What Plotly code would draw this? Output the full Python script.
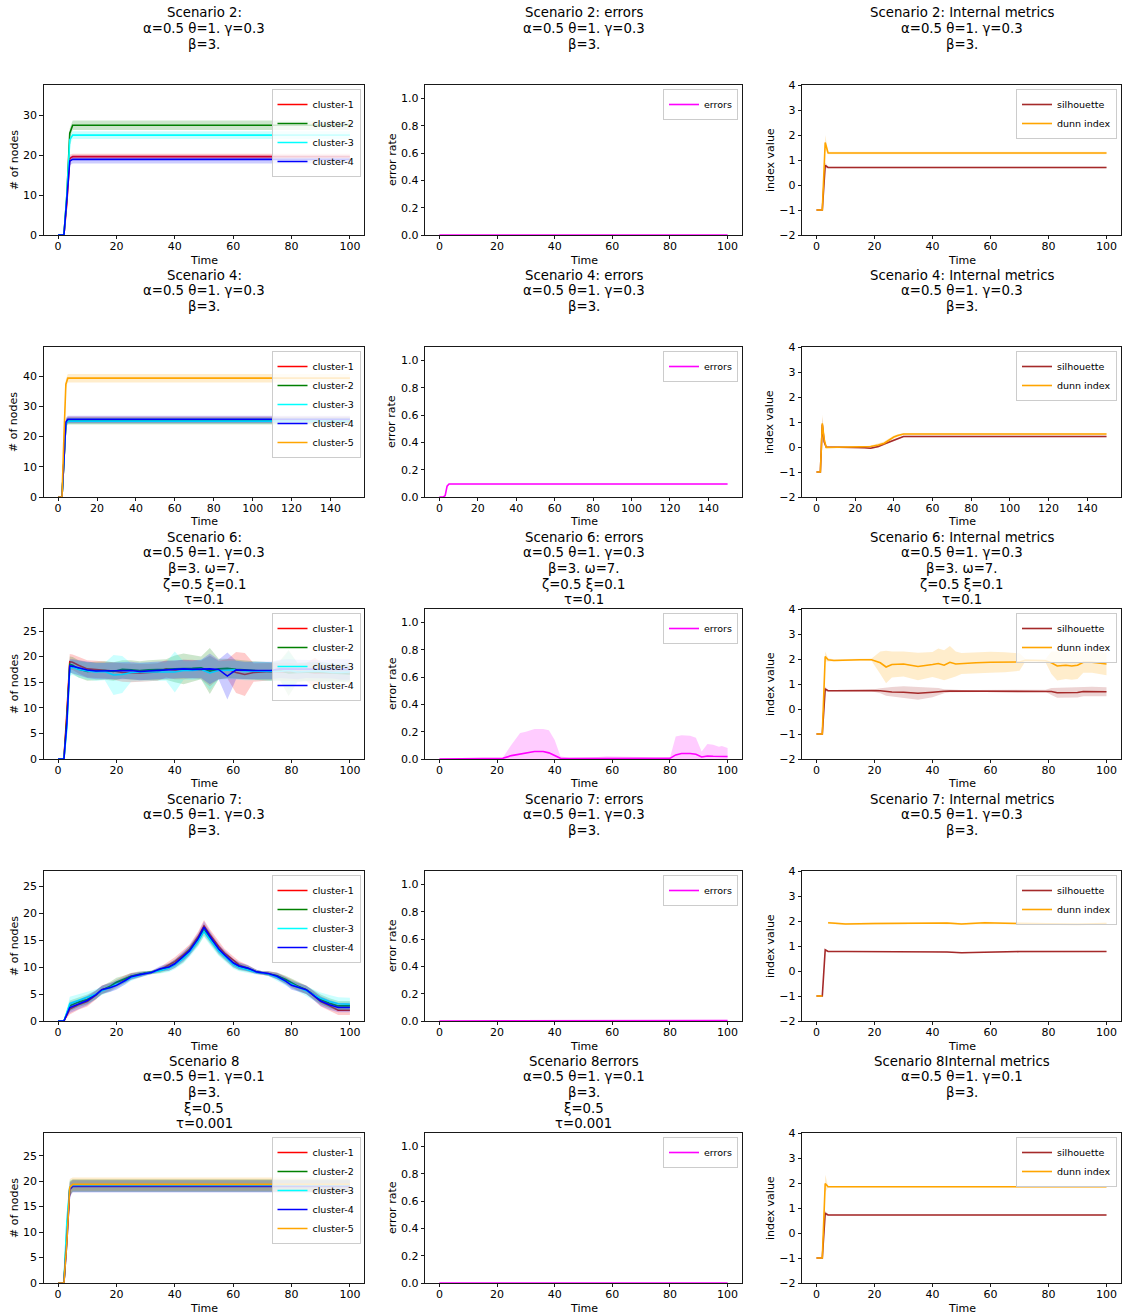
import plotly.graph_objects as go

FONT = "DejaVu Sans"
W, H = 1124, 1315

# ======================= DATA =======================
CLUSTER_NAMES = ["cluster-1", "cluster-2", "cluster-3", "cluster-4", "cluster-5"]
ERR_NAME = "errors"
IDX_NAMES = ["silhouette", "dunn index"]

# ---- Scenario 2 ----
S2_T = [0, 2, 3, 4, 5, 100]
S2_C1 = [0, 0, 8, 19.2, 19.7, 19.7]
S2_C1_SD = [0, 0, 1.5, 1.0, 0.7, 0.7]
S2_C2 = [0, 0, 10, 25.6, 27.6, 27.6]
S2_C2_SD = [0, 0, 1.5, 1.2, 1.2, 1.2]
S2_C3 = [0, 0, 10, 23.9, 25.1, 25.1]
S2_C3_SD = [0, 0, 1.5, 1.2, 1.0, 1.0]
S2_C4 = [0, 0, 9, 18.6, 19.0, 19.0]
S2_C4_SD = [0, 0, 1.5, 1.1, 1.0, 1.0]
S2_ERR_T = [0, 100]
S2_ERR = [0, 0]
S2_ERR_SD = [0, 0]
S2_IDX_T = [0, 2, 3, 4, 100]
S2_SIL = [-1, -1, 0.78, 0.70, 0.70]
S2_SIL_SD = [0, 0, 0.12, 0.03, 0.03]
S2_DUNN = [-1, -1, 1.7, 1.28, 1.28]
S2_DUNN_SD = [0, 0, 0.3, 0.05, 0.05]

# ---- Scenario 4 ----
S4_T = [0, 2, 3, 4, 5, 150]
S4_C1 = [0, 0, 12, 24.5, 25.4, 25.4]
S4_C1_SD = [0, 0, 2, 1.4, 1.2, 1.2]
S4_C2 = [0, 0, 12, 24.3, 25.2, 25.2]
S4_C2_SD = [0, 0, 2, 1.4, 1.2, 1.2]
S4_C3 = [0, 0, 12, 24.2, 25.1, 25.1]
S4_C3_SD = [0, 0, 2, 1.3, 1.0, 1.0]
S4_C4 = [0, 0, 12, 24.8, 25.7, 25.7]
S4_C4_SD = [0, 0, 2, 1.3, 1.2, 1.2]
S4_C5 = [0, 0, 20, 37.3, 39.3, 39.3]
S4_C5_SD = [0, 0, 3, 1.7, 1.4, 1.4]
S4_ERR_T = [0, 2, 3, 4, 5, 150]
S4_ERR = [0, 0, 0.01, 0.08, 0.095, 0.095]
S4_ERR_SD = [0, 0, 0.005, 0.005, 0.003, 0.003]
S4_IDX_T = [0, 2, 3, 4, 5, 10, 20, 25, 28, 32, 35, 37, 40, 42, 45, 150]
S4_SIL = [-1, -1, 0.9, 0.2, 0.0, 0.0, 0.0, -0.03, -0.05, 0.02, 0.12, 0.18, 0.28, 0.34, 0.42, 0.42]
S4_SIL_SD = [0, 0, 0.3, 0.05, 0.03, 0.03, 0.03, 0.03, 0.03, 0.04, 0.05, 0.05, 0.05, 0.04, 0.03, 0.03]
S4_DUNN = [-1, -1, 0.95, 0.3, -0.02, -0.01, 0.0, 0.0, 0.02, 0.08, 0.15, 0.25, 0.4, 0.46, 0.52, 0.52]
S4_DUNN_SD = [0, 0, 0.35, 0.08, 0.04, 0.03, 0.03, 0.03, 0.04, 0.06, 0.07, 0.07, 0.06, 0.05, 0.04, 0.04]

# ---- Scenario 6 ----
S6_T = [0, 2, 3, 4, 5, 7, 10, 13, 16, 19, 22, 25, 28, 31, 34, 37, 40, 43, 46, 49,
        52, 55, 58, 61, 64, 67, 70, 73, 76, 79, 82, 85, 88, 91, 94, 97, 100]
S6_C1 = [0, 0, 9, 19.0, 18.9, 18.3, 17.6, 17.5, 17.4, 17.2, 16.9, 16.8, 16.8, 16.9, 17.0, 17.6, 17.4, 17.5, 17.6, 17.4,
         17.2, 17.4, 17.6, 16.9, 16.5, 16.9, 17.0, 17.1, 17.0, 17.0, 16.9, 17.0, 16.8, 16.9, 16.9, 16.8, 16.8]
S6_C1_SD = [0, 0, 2, 1.5, 1.5, 1.6, 1.7, 1.7, 1.7, 1.7, 1.8, 1.8, 1.8, 1.7, 1.7, 1.7, 1.8, 1.9, 1.8, 1.8,
            3.0, 1.8, 1.9, 4.0, 4.2, 1.8, 1.7, 1.7, 1.7, 1.8, 1.7, 1.7, 3.0, 1.6, 1.6, 1.6, 1.6]
S6_C2 = [0, 0, 8, 18.5, 18.3, 17.6, 17.1, 17.2, 17.3, 17.1, 17.5, 17.4, 17.3, 17.4, 17.4, 17.5, 17.6, 17.6, 17.7, 17.8,
         17.2, 17.6, 17.7, 17.5, 17.4, 17.3, 17.2, 17.1, 17.3, 16.8, 16.9, 17.0, 17.0, 16.9, 16.8, 16.7, 16.6]
S6_C2_SD = [0, 0, 2, 1.5, 1.6, 1.7, 1.8, 1.8, 1.8, 1.8, 1.8, 1.9, 1.8, 1.9, 2.0, 2.0, 2.6, 3.0, 2.6, 2.2,
            4.5, 2.0, 1.9, 1.9, 1.9, 1.8, 1.8, 1.8, 1.9, 4.5, 1.9, 1.8, 1.8, 2.0, 1.8, 1.7, 1.6]
S6_C3 = [0, 0, 6, 17.8, 17.9, 17.5, 17.2, 17.0, 17.1, 16.4, 16.5, 16.9, 17.0, 17.0, 17.1, 17.1, 17.0, 17.3, 17.3, 17.5,
         16.8, 17.3, 17.4, 17.4, 17.2, 17.2, 17.2, 17.1, 17.1, 17.3, 17.0, 17.1, 17.2, 17.1, 16.9, 16.9, 17.0]
S6_C3_SD = [0, 0, 2, 1.5, 1.5, 1.6, 1.7, 1.7, 1.7, 3.9, 3.6, 1.8, 1.8, 1.8, 1.8, 1.8, 4.0, 1.8, 1.8, 1.9,
            3.3, 1.8, 1.8, 1.8, 1.8, 1.8, 1.8, 1.8, 1.8, 3.7, 1.8, 1.8, 1.8, 1.8, 1.8, 1.8, 1.8]
S6_C4 = [0, 0, 7, 18.2, 18.1, 17.8, 17.4, 17.2, 17.2, 17.2, 17.3, 17.3, 17.1, 17.2, 17.3, 17.4, 17.5, 17.6, 17.5, 17.6,
         17.6, 17.5, 16.2, 17.4, 17.3, 17.3, 17.3, 17.3, 17.6, 17.6, 17.5, 17.6, 17.5, 17.5, 17.6, 17.5, 17.5]
S6_C4_SD = [0, 0, 2, 1.3, 1.4, 1.5, 1.6, 1.6, 1.6, 1.7, 1.7, 1.7, 1.7, 1.7, 1.7, 1.7, 1.8, 1.8, 1.8, 1.8,
            3.0, 1.9, 4.6, 1.8, 1.7, 1.7, 1.7, 1.7, 1.8, 1.9, 1.9, 1.8, 1.8, 1.8, 1.9, 2.0, 2.0]
S6_ERR_T = [0, 5, 10, 15, 20, 22, 25, 28, 30, 33, 36, 38, 40, 42, 45, 50, 55, 58, 62, 66,
            70, 75, 80, 82, 84, 87, 89, 91, 93, 95, 97, 98, 100]
S6_ERR = [0, 0.003, 0.004, 0.004, 0.004, 0.005, 0.025, 0.035, 0.04, 0.055, 0.055, 0.045, 0.025, 0.005, 0.004,
          0.004, 0.004, 0.006, 0.006, 0.005, 0.004, 0.004, 0.005, 0.03, 0.04, 0.04, 0.035, 0.015, 0.022, 0.02,
          0.02, 0.02, 0.018]
S6_ERR_SD = [0.005, 0.003, 0.003, 0.003, 0.004, 0.005, 0.08, 0.155, 0.16, 0.165, 0.165, 0.165, 0.115, 0.015, 0.006,
             0.006, 0.011, 0.014, 0.014, 0.015, 0.011, 0.006, 0.005, 0.135, 0.135, 0.13, 0.12, 0.04, 0.088, 0.085,
             0.07, 0.075, 0.062]
S6_IDX_T = [0, 2, 3, 4, 6, 10, 15, 19, 22, 24, 26, 30, 35, 40, 42, 44, 46, 48, 50, 55,
            60, 65, 70, 72, 76, 79, 81, 83, 86, 88, 90, 92, 95, 100]
S6_SIL = [-1, -1, 0.8, 0.73, 0.73, 0.74, 0.74, 0.74, 0.73, 0.7, 0.68, 0.67, 0.63, 0.67, 0.7, 0.71, 0.72, 0.72, 0.72, 0.72,
          0.73, 0.73, 0.73, 0.73, 0.73, 0.73, 0.7, 0.65, 0.65, 0.66, 0.66, 0.7, 0.7, 0.69]
S6_SIL_SD = [0, 0, 0.1, 0.03, 0.03, 0.03, 0.03, 0.03, 0.1, 0.17, 0.2, 0.24, 0.26, 0.2, 0.14, 0.08, 0.05, 0.05, 0.04, 0.04,
             0.04, 0.04, 0.04, 0.04, 0.04, 0.04, 0.14, 0.2, 0.2, 0.2, 0.2, 0.19, 0.19, 0.18]
S6_DUNN = [-1, -1, 2.1, 1.97, 1.94, 1.96, 1.97, 1.97, 1.85, 1.68, 1.78, 1.8, 1.7, 1.78, 1.82, 1.75, 1.87, 1.8, 1.82, 1.85,
           1.87, 1.87, 1.88, 1.95, 1.95, 1.93, 1.85, 1.72, 1.75, 1.72, 1.75, 1.87, 1.87, 1.8]
S6_DUNN_SD = [0, 0, 0.2, 0.06, 0.05, 0.04, 0.04, 0.05, 0.45, 0.65, 0.52, 0.5, 0.55, 0.5, 0.6, 0.6, 0.65, 0.5, 0.42, 0.42,
              0.42, 0.4, 0.35, 0.05, 0.05, 0.07, 0.45, 0.58, 0.55, 0.55, 0.55, 0.42, 0.42, 0.45]

# ---- Scenario 7 ----
S7_T = [0, 2, 4, 7, 10, 13, 15, 18, 20, 23, 25, 28, 30, 32, 35, 38, 40, 43, 45, 48,
        50, 52, 55, 57, 60, 62, 65, 68, 70, 72, 75, 78, 80, 82, 85, 87, 90, 93, 96, 100]
S7_C1 = [0, 0, 2.2, 3.0, 3.6, 4.8, 5.8, 6.3, 6.9, 7.8, 8.3, 8.6, 8.9, 9.0, 9.5, 10.4, 11.0, 12.3, 13.3, 15.6,
         17.6, 16.0, 13.8, 12.6, 11.2, 10.4, 9.8, 9.1, 8.9, 8.8, 8.4, 7.6, 6.9, 6.4, 5.8, 5.0, 3.6, 2.8, 2.0, 2.0]
S7_C2 = [0, 0, 2.8, 3.5, 4.0, 4.9, 5.7, 6.5, 7.2, 7.8, 8.3, 8.7, 8.9, 9.0, 9.4, 10.0, 10.6, 11.8, 13.0, 15.0,
         16.9, 15.4, 13.2, 12.1, 10.7, 10.1, 9.7, 9.1, 8.9, 8.8, 8.4, 7.7, 7.1, 6.5, 5.8, 5.1, 4.0, 3.3, 2.8, 2.8]
S7_C3 = [0, 0, 3.2, 3.8, 4.3, 5.0, 5.6, 6.2, 6.8, 7.4, 8.0, 8.5, 8.8, 9.0, 9.3, 9.8, 10.4, 11.6, 12.7, 14.8,
         16.6, 15.1, 13.0, 12.0, 10.5, 9.9, 9.5, 9.0, 8.9, 8.7, 8.1, 7.3, 6.8, 6.3, 5.6, 5.0, 4.2, 3.6, 3.2, 3.1]
S7_C4 = [0, 0, 2.5, 3.1, 3.8, 4.9, 5.8, 6.2, 6.6, 7.5, 8.2, 8.6, 8.8, 9.0, 9.7, 10.0, 10.6, 12.0, 13.0, 15.3,
         17.4, 15.7, 13.4, 12.3, 10.8, 10.2, 9.8, 9.1, 8.9, 8.8, 8.3, 7.4, 6.6, 6.3, 5.8, 5.0, 3.7, 3.0, 2.5, 2.5]
S7_SD = [0, 0, 1.0, 0.9, 0.9, 0.8, 0.8, 0.8, 0.8, 0.7, 0.6, 0.5, 0.4, 0.3, 0.5, 0.7, 0.8, 0.9, 0.9, 1.0,
         1.1, 1.0, 0.9, 0.8, 0.8, 0.7, 0.6, 0.4, 0.3, 0.4, 0.6, 0.7, 0.8, 0.8, 0.8, 0.8, 0.9, 0.9, 0.9, 0.9]
S7_C3_SD = [0, 0, 1.3, 1.2, 1.1, 0.9, 0.8, 0.8, 0.8, 0.7, 0.6, 0.5, 0.4, 0.3, 0.5, 0.7, 0.8, 0.9, 0.9, 1.0,
            1.0, 1.0, 0.9, 0.8, 0.8, 0.7, 0.6, 0.4, 0.3, 0.4, 0.6, 0.7, 0.8, 0.8, 0.9, 1.0, 1.1, 1.2, 1.2, 1.2]
S7_ERR_T = [0, 2, 4, 20, 40, 60, 80, 100]
S7_ERR = [0, 0, 0.003, 0.003, 0.004, 0.003, 0.003, 0.003]
S7_ERR_SD = [0, 0, 0.002, 0.002, 0.002, 0.002, 0.002, 0.002]
S7_SIL_T = [0, 2, 3, 4, 10, 20, 30, 40, 45, 50, 55, 60, 70, 80, 90, 100]
S7_SIL = [-1, -1, 0.85, 0.78, 0.78, 0.78, 0.78, 0.78, 0.76, 0.73, 0.75, 0.77, 0.78, 0.78, 0.78, 0.78]
S7_SIL_SD = [0, 0, 0.05, 0.02, 0.02, 0.02, 0.02, 0.02, 0.02, 0.02, 0.02, 0.02, 0.02, 0.02, 0.02, 0.02]
S7_DUNN_T = [0, 2, 3, 4, 10, 20, 30, 40, 45, 50, 55, 58, 65, 70, 80, 90, 100]
S7_DUNN = [-1, -1, None, 1.93, 1.88, 1.9, 1.9, 1.93, 1.92, 1.88, 1.91, 1.93, 1.91, 1.9, 1.9, 1.87, 1.9]
S7_DUNN_SD = [0, 0, 0, 0.04, 0.04, 0.04, 0.04, 0.04, 0.04, 0.04, 0.04, 0.04, 0.04, 0.04, 0.04, 0.04, 0.04]

# ---- Scenario 8 ----
S8_T = [0, 2, 3, 4, 5, 100]
S8_C1 = [0, 0, 9, 18.5, 19.1, 19.1]
S8_C2 = [0, 0, 10, 18.6, 19.1, 19.1]
S8_C3 = [0, 0, 12, 18.8, 19.1, 19.1]
S8_C4 = [0, 0, 8, 18.3, 18.95, 18.95]
S8_C5 = [0, 0, 8, 18.8, 19.4, 19.4]
S8_SD = [0, 0, 2, 1.4, 1.2, 1.2]
S8_C5_SD = [0, 0, 2, 1.6, 1.3, 1.3]
S8_ERR_T = [0, 100]
S8_ERR = [0, 0]
S8_ERR_SD = [0, 0]
S8_IDX_T = [0, 2, 3, 4, 100]
S8_SIL = [-1, -1, 0.79, 0.72, 0.72]
S8_SIL_SD = [0, 0, 0.1, 0.02, 0.02]
S8_DUNN = [-1, -1, 1.98, 1.85, 1.85]
S8_DUNN_SD = [0, 0, 0.35, 0.03, 0.03]

# ---- titles ----
P_A = "α=0.5 θ=1. γ=0.3"
P_A8 = "α=0.5 θ=1. γ=0.1"
TITLES = [
    [["Scenario 2:", P_A, "β=3."], ["Scenario 2: errors", P_A, "β=3."], ["Scenario 2: Internal metrics", P_A, "β=3."]],
    [["Scenario 4:", P_A, "β=3."], ["Scenario 4: errors", P_A, "β=3."], ["Scenario 4: Internal metrics", P_A, "β=3."]],
    [["Scenario 6:", P_A, "β=3. ω=7.", "ζ=0.5 ξ=0.1", "τ=0.1"],
     ["Scenario 6: errors", P_A, "β=3. ω=7.", "ζ=0.5 ξ=0.1", "τ=0.1"],
     ["Scenario 6: Internal metrics", P_A, "β=3. ω=7.", "ζ=0.5 ξ=0.1", "τ=0.1"]],
    [["Scenario 7:", P_A, "β=3."], ["Scenario 7: errors", P_A, "β=3."], ["Scenario 7: Internal metrics", P_A, "β=3."]],
    [["Scenario 8", P_A8, "β=3.", "ξ=0.5", "τ=0.001"],
     ["Scenario 8errors", P_A8, "β=3.", "ξ=0.5", "τ=0.001"],
     ["Scenario 8Internal metrics", P_A8, "β=3."]],
]
X_LABEL = "Time"
Y_LABELS = ["# of nodes", "error rate", "index value"]

# ======================= STYLE / LAYOUT =======================
RED, GREEN, CYAN, BLUE, ORANGE = "#ff0000", "#008000", "#00ffff", "#0000ff", "#ffa500"
MAGENTA, BROWN = "#ff00ff", "#a52a2a"
CCOL = [RED, GREEN, CYAN, BLUE, ORANGE]

COLX = [(43.5, 364.5), (425.0, 742.0), (802.0, 1121.0)]
ROWTOP = [85, 347, 609, 871, 1133]
PH = 150
YLAB_X = [14, 392, 770]

ROW_NODE_RANGE = [[0, 37.7], [0, 49.6], [0, 29.3], [0, 27.8], [0, 29.45]]
ROW_NODE_DTICK = [10, 10, 5, 5, 5]
ROW_XRANGE = [[-5, 105], [-7.5, 157.5], [-5, 105], [-5, 105], [-5, 105]]

rows = [
    dict(
        nodes=[(S2_T, S2_C1, S2_C1_SD), (S2_T, S2_C2, S2_C2_SD), (S2_T, S2_C3, S2_C3_SD), (S2_T, S2_C4, S2_C4_SD)],
        err=(S2_ERR_T, S2_ERR, S2_ERR_SD),
        sil=(S2_IDX_T, S2_SIL, S2_SIL_SD), dunn=(S2_IDX_T, S2_DUNN, S2_DUNN_SD)),
    dict(
        nodes=[(S4_T, S4_C1, S4_C1_SD), (S4_T, S4_C2, S4_C2_SD), (S4_T, S4_C3, S4_C3_SD), (S4_T, S4_C4, S4_C4_SD),
               (S4_T, S4_C5, S4_C5_SD)],
        err=(S4_ERR_T, S4_ERR, S4_ERR_SD),
        sil=(S4_IDX_T, S4_SIL, S4_SIL_SD), dunn=(S4_IDX_T, S4_DUNN, S4_DUNN_SD)),
    dict(
        nodes=[(S6_T, S6_C1, S6_C1_SD), (S6_T, S6_C2, S6_C2_SD), (S6_T, S6_C3, S6_C3_SD), (S6_T, S6_C4, S6_C4_SD)],
        err=(S6_ERR_T, S6_ERR, S6_ERR_SD),
        sil=(S6_IDX_T, S6_SIL, S6_SIL_SD), dunn=(S6_IDX_T, S6_DUNN, S6_DUNN_SD)),
    dict(
        nodes=[(S7_T, S7_C1, S7_SD), (S7_T, S7_C2, S7_SD), (S7_T, S7_C3, S7_C3_SD), (S7_T, S7_C4, S7_SD)],
        err=(S7_ERR_T, S7_ERR, S7_ERR_SD),
        sil=(S7_SIL_T, S7_SIL, S7_SIL_SD), dunn=(S7_DUNN_T, S7_DUNN, S7_DUNN_SD)),
    dict(
        nodes=[(S8_T, S8_C1, S8_SD), (S8_T, S8_C2, S8_SD), (S8_T, S8_C3, S8_SD), (S8_T, S8_C4, S8_SD),
               (S8_T, S8_C5, S8_C5_SD)],
        err=(S8_ERR_T, S8_ERR, S8_ERR_SD),
        sil=(S8_IDX_T, S8_SIL, S8_SIL_SD), dunn=(S8_IDX_T, S8_DUNN, S8_DUNN_SD)),
]


def rgba(hexc, a):
    h = hexc.lstrip("#")
    return "rgba(%d,%d,%d,%s)" % (int(h[0:2], 16), int(h[2:4], 16), int(h[4:6], 16), a)


fig = go.Figure()


def add_series(k, name, color, t, mean, sd, legend):
    xa = "x" if k == 1 else "x%d" % k
    ya = "y" if k == 1 else "y%d" % k
    fig.add_trace(go.Scatter(x=t, y=mean, mode="lines", name=name, legend=legend,
                             line=dict(color=color, width=1.6), xaxis=xa, yaxis=ya,
                             connectgaps=False, hoverinfo="skip"))
    segs, seg = [], []
    for ti, mi, si in zip(t, mean, sd):
        if mi is None:
            if seg:
                segs.append(seg)
            seg = []
        else:
            seg.append((ti, mi - si, mi + si))
    if seg:
        segs.append(seg)
    for s in segs:
        xs = [p[0] for p in s] + [p[0] for p in reversed(s)]
        ys = [p[2] for p in s] + [p[1] for p in reversed(s)]
        fig.add_trace(go.Scatter(x=xs, y=ys, mode="lines", fill="toself", fillcolor=rgba(color, 0.2),
                                 line=dict(width=0, color=rgba(color, 0)), hoverinfo="skip",
                                 showlegend=False, xaxis=xa, yaxis=ya))


layout = dict(width=W, height=H, margin=dict(l=0, r=0, t=0, b=0), autosize=False,
              paper_bgcolor="white", plot_bgcolor="white", template="none",
              font=dict(family=FONT, color="black", size=11), showlegend=True)
annotations = []

axis_common = dict(showline=True, linecolor="black", linewidth=0.9, mirror=True, ticks="outside",
                   ticklen=3.5, tickwidth=0.9, tickcolor="black", showgrid=False, zeroline=False,
                   tickfont=dict(family=FONT, size=11, color="black"), fixedrange=True)

for r, row in enumerate(rows):
    top = ROWTOP[r]
    for c in range(3):
        k = r * 3 + c + 1
        legend = "legend" if k == 1 else "legend%d" % k
        x0, x1 = COLX[c]
        if c == 0:
            for i, (t, m, s) in enumerate(row["nodes"]):
                add_series(k, CLUSTER_NAMES[i], CCOL[i], t, m, s, legend)
            yr, dt, fmt = ROW_NODE_RANGE[r], ROW_NODE_DTICK[r], None
        elif c == 1:
            t, m, s = row["err"]
            add_series(k, ERR_NAME, MAGENTA, t, m, s, legend)
            yr, dt, fmt = [0, 1.1], 0.2, ".1f"
        else:
            t, m, s = row["sil"]
            add_series(k, IDX_NAMES[0], BROWN, t, m, s, legend)
            t, m, s = row["dunn"]
            add_series(k, IDX_NAMES[1], ORANGE, t, m, s, legend)
            yr, dt, fmt = [-2, 4], 1, None
        xkey = "xaxis" if k == 1 else "xaxis%d" % k
        ykey = "yaxis" if k == 1 else "yaxis%d" % k
        layout[xkey] = dict(axis_common, domain=[x0 / W, x1 / W], anchor="y" if k == 1 else "y%d" % k,
                            range=ROW_XRANGE[r], tick0=0, dtick=20, ticklabelstandoff=-3)
        ydict = dict(axis_common, domain=[1 - (top + PH) / H, 1 - top / H],
                     anchor="x" if k == 1 else "x%d" % k, range=yr, tick0=0, dtick=dt)
        if fmt:
            ydict["tickformat"] = fmt
        layout[ykey] = ydict
        layout[legend] = dict(x=(x1 - 4) / W, y=1 - (top + 4) / H, xanchor="right", yanchor="top",
                              bgcolor="rgba(255,255,255,0.8)", bordercolor="#cccccc", borderwidth=1,
                              font=dict(family=FONT, size=9.5, color="black"), tracegroupgap=0,
                              itemwidth=30)
        cx = (x0 + x1) / 2
        for i, line in enumerate(TITLES[r][c]):
            ypix = top - 72 + i * 15.7
            annotations.append(dict(text=line, x=cx / W, y=1 - ypix / H, xref="paper", yref="paper",
                                    xanchor="center", yanchor="middle", showarrow=False,
                                    font=dict(family=FONT, size=13.3, color="black")))
        annotations.append(dict(text=X_LABEL, x=cx / W, y=1 - (top + PH + 25) / H, xref="paper",
                                yref="paper", xanchor="center", yanchor="middle", showarrow=False,
                                font=dict(family=FONT, size=11, color="black")))
        annotations.append(dict(text=Y_LABELS[c], x=YLAB_X[c] / W, y=1 - (top + PH / 2) / H, xref="paper",
                                yref="paper", xanchor="center", yanchor="middle", showarrow=False,
                                textangle=-90, font=dict(family=FONT, size=11, color="black")))

layout["annotations"] = annotations
fig.update_layout(**layout)
fig.write_html("out.html", config={"displayModeBar": False, "staticPlot": True},
               post_script="document.body.style.margin='0';document.body.style.padding='0';")
